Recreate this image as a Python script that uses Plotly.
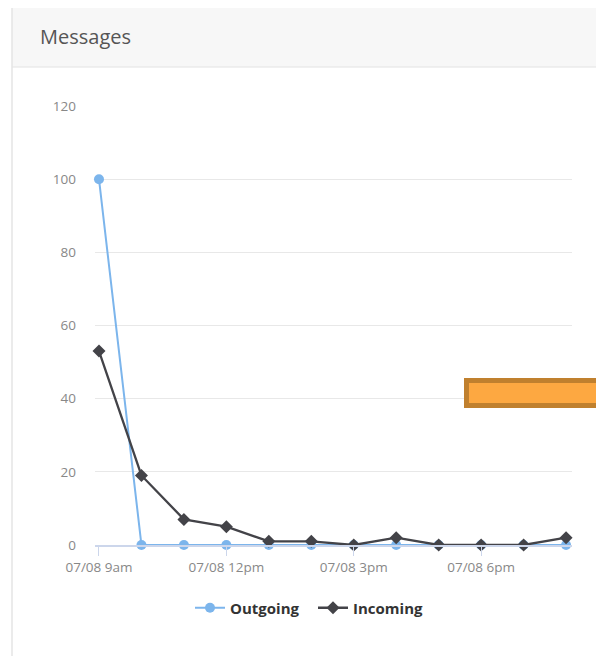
import plotly.graph_objects as go

W, H = 596, 648   # visible area of the window after the 8px page margin
OFF = 8           # page body margin

hours = ["07/08 9am", "07/08 10am", "07/08 11am", "07/08 12pm", "07/08 1pm", "07/08 2pm",
         "07/08 3pm", "07/08 4pm", "07/08 5pm", "07/08 6pm", "07/08 7pm", "07/08 8pm"]
outgoing = [100, 0, 0, 0, 0, 0, 0, 0, 0, 0, 0, 0]
incoming = [53, 19, 7, 5, 1, 1, 0, 2, 0, 0, 0, 2]
tick_labels = ["07/08 9am", "07/08 12pm", "07/08 3pm", "07/08 6pm"]
y_ticks = [0, 20, 40, 60, 80, 100, 120]

FONT = "Open Sans"


def px_x(v):
    return (v - OFF) / W


def px_y(v):
    return 1 - (v - OFF) / H


fig = go.Figure()
fig.add_trace(go.Scatter(
    x=hours, y=outgoing, name="Outgoing", mode="lines+markers",
    line=dict(color="#7cb5ec", width=2),
    marker=dict(symbol="circle", size=10, color="#7cb5ec"),
    cliponaxis=False, legend="legend", showlegend=True,
))
fig.add_trace(go.Scatter(
    x=hours, y=incoming, name="Incoming", mode="lines+markers",
    line=dict(color="#434348", width=2.3),
    marker=dict(symbol="diamond", size=10, color="#434348"),
    cliponaxis=False, legend="legend2", showlegend=True,
))

shapes = [
    # card header
    dict(type="rect", xref="paper", yref="paper", x0=px_x(12), x1=px_x(W + 30),
         y0=px_y(67), y1=px_y(4), fillcolor="#f7f7f7", line=dict(width=0), layer="below"),
    dict(type="line", xref="paper", yref="paper", x0=px_x(12), x1=px_x(W + 30),
         y0=px_y(67), y1=px_y(67), line=dict(color="#e2e2e2", width=1)),
    # card left border
    dict(type="line", xref="paper", yref="paper", x0=px_x(12), x1=px_x(12),
         y0=px_y(8), y1=px_y(H + 30), line=dict(color="#e4e4e4", width=1.5)),
    # orange overlay box
    dict(type="rect", xref="paper", yref="paper", x0=px_x(466.5), x1=px_x(W + 30),
         y0=px_y(405.5), y1=px_y(380.5), fillcolor="#fda841",
         line=dict(color="#c0802e", width=5), layer="above"),
]

legend_style = dict(
    orientation="h", yanchor="middle", xanchor="left",
    font=dict(family=FONT, size=15, color="#333", weight="bold"),
    itemwidth=30, bgcolor="rgba(0,0,0,0)",
)

fig.update_layout(
    template="none",
    showlegend=True,
    width=W, height=H,
    margin=dict(l=0, r=0, t=0, b=0, autoexpand=False),
    paper_bgcolor="white", plot_bgcolor="white",
    font=dict(family=FONT, color="#888"),
    shapes=shapes,
    annotations=[dict(text="Messages", xref="paper", yref="paper",
                      x=px_x(38), y=px_y(37), xanchor="left", yanchor="middle",
                      showarrow=False, font=dict(family=FONT, size=20, color="#555"))],
    xaxis=dict(
        domain=[px_x(95), px_x(572)],
        type="category", automargin=False,
        range=[-0.094, 11.14],
        tickvals=tick_labels, ticktext=tick_labels,
        ticks="outside", ticklen=9, tickcolor="#ccd6eb", tickwidth=1,
        showgrid=False, showline=True, linecolor="#ccd6eb", linewidth=1.5,
        zeroline=False,
        tickfont=dict(family=FONT, size=13.5, color="#888"),
    ),
    yaxis=dict(
        domain=[px_y(545), px_y(106)],
        range=[0, 120], automargin=False,
        tickvals=y_ticks,
        showgrid=True, gridcolor="#e8e8e8", gridwidth=1,
        zeroline=False, showline=False, ticks="",
        ticklabelstandoff=18,
        tickfont=dict(family=FONT, size=13.5, color="#888"),
    ),
    legend=dict(legend_style, x=px_x(190), y=px_y(608)),
    legend2=dict(legend_style, x=px_x(313), y=px_y(608)),
)

fig.write_html("out.html")
